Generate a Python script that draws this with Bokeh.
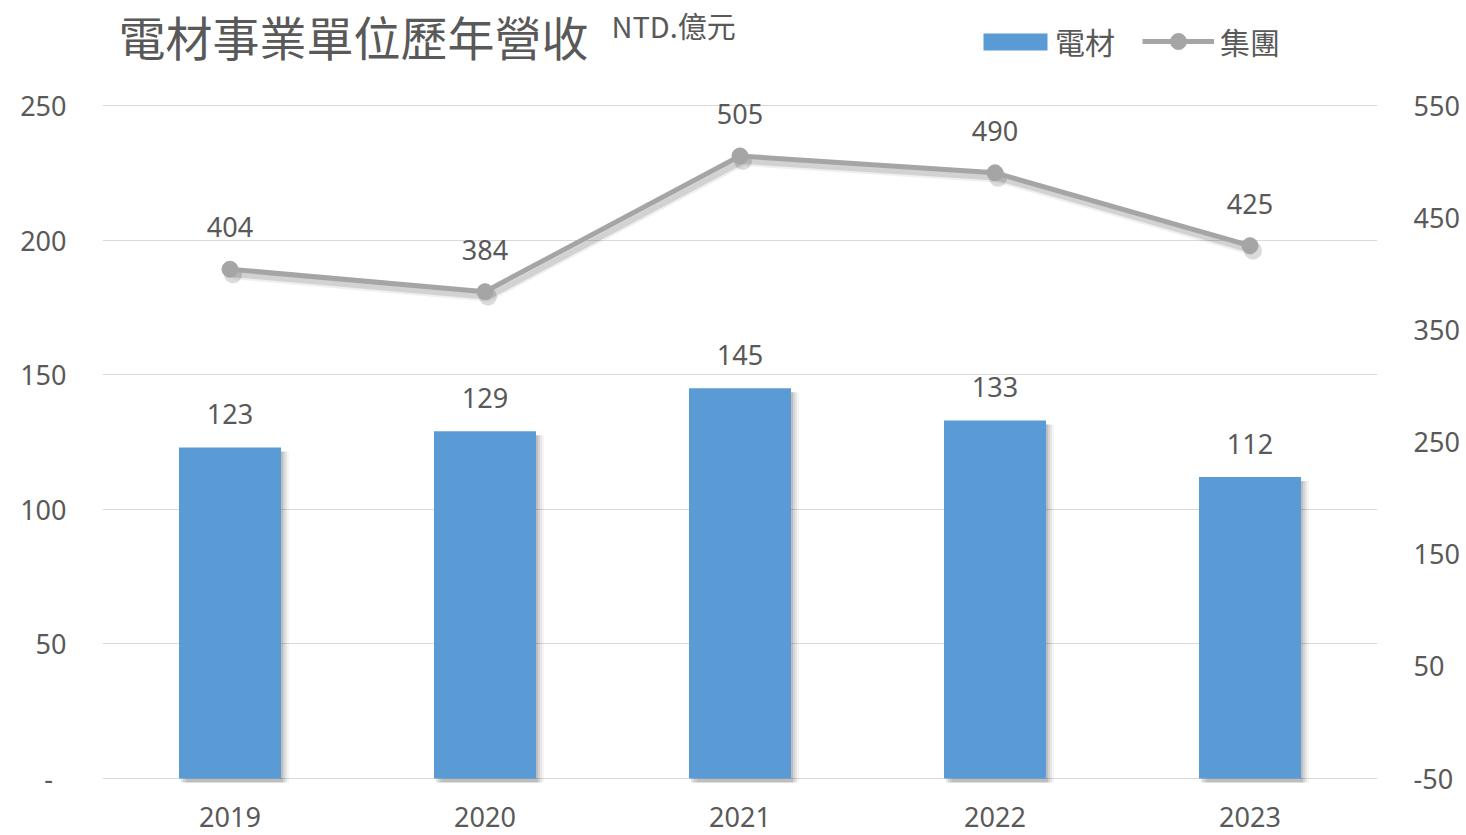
from bokeh.plotting import figure
from bokeh.models import (ColumnDataSource, Range1d, LinearAxis, FixedTicker, LabelSet,
                          Label, Legend, LegendItem, FactorRange)
from bokeh.core.properties import value
from bokeh.transform import dodge
from bokeh.embed import file_html
from bokeh.resources import INLINE

years = ["2019", "2020", "2021", "2022", "2023"]
material = [123, 129, 145, 133, 112]
group = [404, 384, 505, 490, 425]
left_ticks = [0, 50, 100, 150, 200, 250]
right_ticks = [-50, 50, 150, 250, 350, 450, 550]
title_text = "電材事業單位歷年營收"
unit_text = "NTD.億元"
series_names = ["電材", "集團"]

TXT = "#595959"
NUM_FONT = "Noto Sans"
CJK_FONT = "Noto Sans CJK TC"

W, H = 1466, 835
FL, FR = 102, 1377                   # frame left/right on the page
ZERO_Y = 778                         # page y of the zero line
EXTRA_B = 5                          # frame extends a few px below zero (for shadows)
FB = ZERO_Y + EXTRA_B
PX_PER_LEFT = 673 / 250.0
PX_PER_RIGHT = 673 / 600.0
left_bot = -EXTRA_B / PX_PER_LEFT
left_top = ZERO_Y / PX_PER_LEFT
right_bot = -50 - EXTRA_B / PX_PER_RIGHT
right_top = -50 + ZERO_Y / PX_PER_RIGHT

src = ColumnDataSource(dict(
    year=years, material=material, group=group,
    mat_lbl=[str(v) for v in material], grp_lbl=[str(v) for v in group],
    mat_sh=[v - 4 / PX_PER_LEFT for v in material],
    grp_sh=[v - 5 / PX_PER_RIGHT for v in group],
))

p = figure(width=W, height=H, x_range=FactorRange(*years), y_range=Range1d(left_bot, left_top),
           output_backend="svg", toolbar_location=None,
           min_border_left=FL, min_border_right=W - FR, min_border_top=0,
           min_border_bottom=H - FB)
p.extra_y_ranges = {"right": Range1d(right_bot, right_top)}
p.outline_line_color = None
p.background_fill_color = "white"
p.border_fill_color = "white"

# grid
p.xgrid.grid_line_color = None
p.ygrid.ticker = FixedTicker(ticks=left_ticks)
p.ygrid.grid_line_color = "#D9D9D9"
p.ygrid.grid_line_width = 1.2

# bar shadows (soft, right/below)
px = 1.0 / 255
sh_bottom = -4 / PX_PER_LEFT
for k, a in ((8, 0.04), (6, 0.06), (4, 0.08), (2, 0.10)):
    p.vbar(x=dodge("year", k * px, range=p.x_range), top="mat_sh", bottom=sh_bottom,
           width=0.4, source=src, fill_color="#000000", fill_alpha=a, line_color=None)
bars = p.vbar(x="year", top="material", width=0.4, source=src,
              fill_color="#5B9BD5", line_color=None)

# line shadow
for w, a in ((10, 0.06), (6, 0.12)):
    p.line(x=dodge("year", 3 * px, range=p.x_range), y="grp_sh", source=src,
           y_range_name="right", line_color="#000000", line_alpha=a, line_width=w)
p.scatter(x=dodge("year", 3 * px, range=p.x_range), y="grp_sh", source=src,
          y_range_name="right", size=18, fill_color="#000000", fill_alpha=0.14, line_color=None)
ln = p.line(x="year", y="group", source=src, y_range_name="right",
            line_color="#A5A5A5", line_width=5)
mk = p.scatter(x="year", y="group", source=src, y_range_name="right",
               size=16, fill_color="#A5A5A5", line_color="#A5A5A5")

# axes
p.xaxis.axis_line_color = None
p.xaxis.major_tick_line_color = None
p.xaxis.minor_tick_line_color = None
p.xaxis.major_label_text_font = NUM_FONT
p.xaxis.major_label_text_font_size = "27px"
p.xaxis.major_label_text_color = TXT
p.xaxis.major_label_standoff = 22 - EXTRA_B

p.yaxis.ticker = FixedTicker(ticks=left_ticks)
p.yaxis.major_label_overrides = {0: "-\u2002"}
ry = LinearAxis(y_range_name="right", ticker=FixedTicker(ticks=right_ticks))
ry.major_label_overrides = {-50: "-50"}
p.add_layout(ry, "right")
for ax in (p.yaxis[0], ry):
    ax.axis_line_color = None
    ax.major_tick_line_color = None
    ax.minor_tick_line_color = None
    ax.major_label_text_font = NUM_FONT
    ax.major_label_text_font_size = "27px"
    ax.major_label_text_color = TXT
    ax.major_label_standoff = 30

# data labels
p.add_layout(LabelSet(x="year", y="material", text="mat_lbl", source=src, y_offset=33,
                      text_align="center", text_baseline="middle", text_color=TXT,
                      text_font=value(NUM_FONT), text_font_size=value("27px")))
p.add_layout(LabelSet(x="year", y="group", text="grp_lbl", source=src, y_offset=42,
                      y_range_name="right",
                      text_align="center", text_baseline="middle", text_color=TXT,
                      text_font=value(NUM_FONT), text_font_size=value("27px")))

# title (screen units relative to frame: x from frame left, y up from frame bottom)
p.add_layout(Label(x=118 - FL, y=FB - 35, x_units="screen", y_units="screen", text=title_text,
                   text_font=CJK_FONT, text_font_size="47px", text_color=TXT,
                   text_baseline="middle", text_align="left"))
p.add_layout(Label(x=611 - FL, y=FB - 24, x_units="screen", y_units="screen", text=unit_text,
                   text_font=CJK_FONT, text_font_size="29px", text_color=TXT,
                   text_baseline="middle", text_align="left"))

leg_common = dict(orientation="horizontal", padding=0, margin=0, border_line_color=None,
                  background_fill_alpha=0, label_text_font=CJK_FONT,
                  label_text_font_size="30px", label_text_color=TXT)
legend1 = Legend(items=[LegendItem(label=series_names[0], renderers=[bars])],
                 location=(975 - FL, FB - 63), glyph_width=80, glyph_height=21,
                 label_standoff=0, **leg_common)
legend2 = Legend(items=[LegendItem(label=series_names[1], renderers=[ln, mk])],
                 location=(1142 - FL, FB - 63), glyph_width=72, glyph_height=40,
                 label_standoff=6, **leg_common)
p.add_layout(legend1)
p.add_layout(legend2)

open("out.html", "w").write(file_html(p, INLINE))
